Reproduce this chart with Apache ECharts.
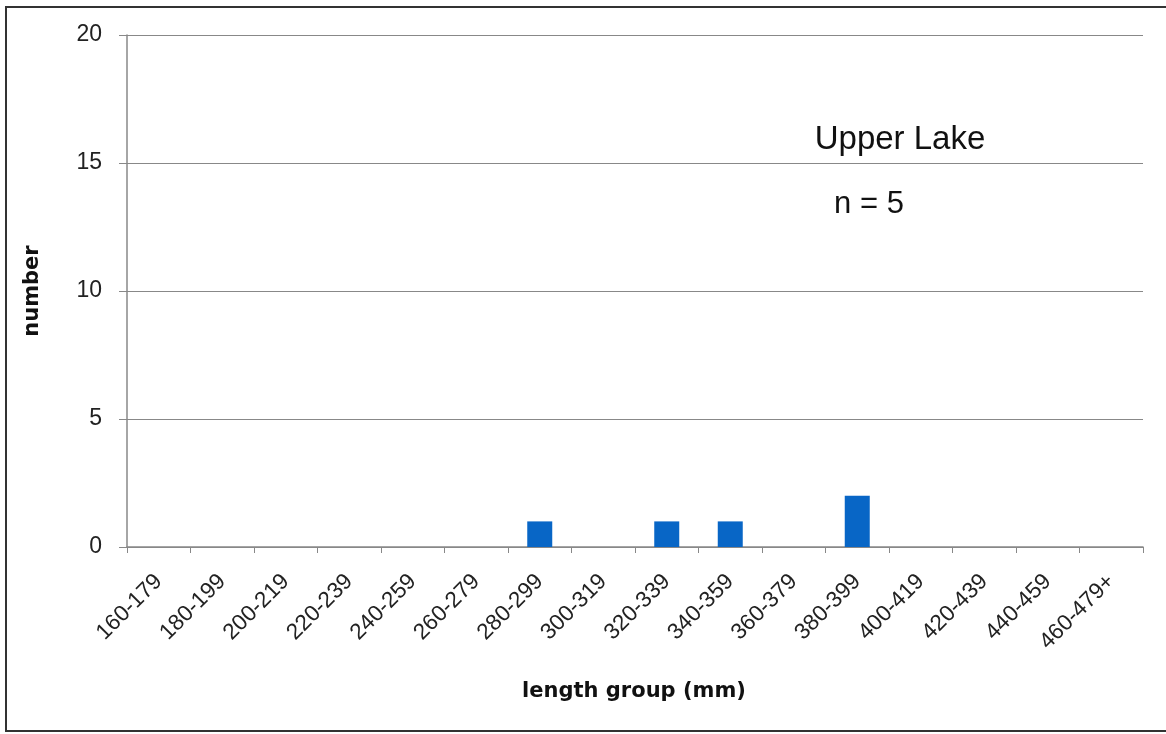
<!DOCTYPE html>
<html>
<head>
<meta charset="utf-8">
<script src="https://cdn.jsdelivr.net/npm/echarts@6/dist/echarts.min.js"></script>
<style>
html,body{margin:0;padding:0;background:#fff;}
#chart{width:1166px;height:734px;}
</style>
</head>
<body>
<div id="chart"></div>
<script>
const categories = ['160-179','180-199','200-219','220-239','240-259','260-279','280-299','300-319','320-339','340-359','360-379','380-399','400-419','420-439','440-459','460-479+'];
const counts = [0,0,0,0,0,0,1,0,1,1,0,2,0,0,0,0];
const yTicks = [0,5,10,15,20];
const titleText = 'Upper Lake';
const subtitleText = 'n = 5';
const xTitle = 'length group (mm)';
const yTitle = 'number';

const chart = echarts.init(document.getElementById('chart'));
chart.setOption({
  animation: false,
  backgroundColor: '#fff',
  grid: { left: 127, top: 35, right: 23, bottom: 187 },
  xAxis: {
    type: 'category',
    data: categories,
    boundaryGap: true,
    axisLine: { lineStyle: { color: '#888', width: 1.5 } },
    axisTick: { show: true, alignWithLabel: false, length: 6, lineStyle: { color: '#888' } },
    axisLabel: { rotate: 45, interval: 0, fontSize: 22.5, color: '#222', margin: 31, fontFamily: 'Liberation Sans, Arial, sans-serif' }
  },
  yAxis: {
    type: 'value',
    min: yTicks[0],
    max: yTicks[yTicks.length - 1],
    interval: 5,
    axisLine: { show: true, lineStyle: { color: '#888', width: 1.5 } },
    axisTick: { show: true, length: 8, lineStyle: { color: '#888' } },
    axisLabel: { fontSize: 23, color: '#222', margin: 25, fontFamily: 'Liberation Sans, Arial, sans-serif' },
    splitLine: { show: true, lineStyle: { color: '#888', width: 1.2 } }
  },
  series: [{
    type: 'bar',
    data: counts,
    barWidth: 25,
    itemStyle: { color: '#0866c6' }
  }],
  graphic: [
    { type: 'rect', shape: { x: 6, y: 7, width: 1200, height: 724 }, style: { fill: 'none', stroke: '#333', lineWidth: 2 }, silent: true },
    { type: 'text', x: 900, y: 140, style: { text: titleText, font: '33px "Liberation Sans", Arial, sans-serif', fill: '#111', align: 'center', verticalAlign: 'middle' } },
    { type: 'text', x: 869, y: 204, style: { text: subtitleText, font: '31px "Liberation Sans", Arial, sans-serif', fill: '#111', align: 'center', verticalAlign: 'middle' } },
    { type: 'text', x: 634, y: 692, style: { text: xTitle, font: 'bold 21px "DejaVu Sans", sans-serif', fill: '#111', align: 'center', verticalAlign: 'middle' } },
    { type: 'text', x: 33, y: 291, rotation: Math.PI / 2, style: { text: yTitle, font: 'bold 21px "DejaVu Sans", sans-serif', fill: '#111', align: 'center', verticalAlign: 'middle' } }
  ]
});
</script>
</body>
</html>
